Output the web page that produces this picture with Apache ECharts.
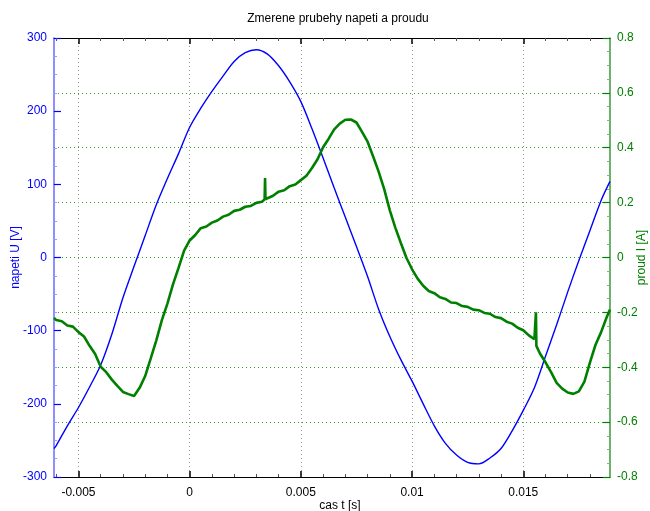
<!DOCTYPE html>
<html>
<head>
<meta charset="utf-8">
<script src="https://cdn.jsdelivr.net/npm/echarts@6/dist/echarts.min.js"></script>
<style>
  html, body { margin: 0; padding: 0; background: #ffffff; }
  #chart { width: 650px; height: 511px; }
</style>
</head>
<body>
<div id="chart"></div>
<script>
// ---- data ----
const chartTitle = 'Zmerene prubehy napeti a proudu';
const xTickValues = [-0.005, 0, 0.005, 0.01, 0.015];
const xMinorTickValues = [-0.006, -0.004, -0.003, -0.002, -0.001, 0.001, 0.002, 0.003, 0.004,
  0.006, 0.007, 0.008, 0.009, 0.011, 0.012, 0.013, 0.014, 0.016, 0.017, 0.018];

// voltage U [V] versus time t [s]
const voltageTime = [
  -0.0061, -0.0060, -0.0055, -0.0050, -0.0045, -0.0040, -0.0035, -0.0030, -0.0025, -0.0020,
  -0.0015, -0.0010, -0.0005, 0.0000, 0.0005, 0.0010, 0.0015, 0.0020, 0.0025, 0.0030,
  0.0035, 0.0040, 0.0045, 0.0050, 0.0055, 0.0060, 0.0065, 0.0070, 0.0075, 0.0080,
  0.0085, 0.0090, 0.0095, 0.0100, 0.0105, 0.0110, 0.0115, 0.0120, 0.0125, 0.0130,
  0.0135, 0.0140, 0.0145, 0.0150, 0.0155, 0.0160, 0.0165, 0.0170, 0.0175, 0.0180,
  0.0185, 0.0189
];
const voltageValues = [
  -261, -257, -230, -205, -177, -147, -105, -55, -12, 30,
  72, 108, 142, 178, 204, 227, 248, 268, 280, 284,
  278, 262, 240, 213, 176, 136, 95, 55, 15, -26,
  -71, -108, -140, -169, -200, -230, -254, -270, -280, -282,
  -274, -261, -237, -209, -178, -135, -92, -47, -4, 37,
  78, 104
];

// current I [A] versus time t [s]
const currentTime = [
  -0.0061, -0.0060, -0.00575, -0.0055, -0.00525, -0.0050, -0.00475, -0.0045, -0.00425, -0.0040,
  -0.00375, -0.0035, -0.00325, -0.0030, -0.00275, -0.0025, -0.00225, -0.0020, -0.00175, -0.0015,
  -0.00125, -0.0010, -0.00075, -0.0005, -0.00025, 0.0000, 0.00025, 0.0005, 0.00075, 0.0010,
  0.00125, 0.0015, 0.00175, 0.0020, 0.00225, 0.0025, 0.00275, 0.0030, 0.00325, 0.00337,
  0.00339, 0.00341, 0.0035, 0.00375, 0.0040, 0.00425, 0.0045, 0.00475, 0.0050, 0.00525,
  0.0055, 0.00575, 0.0060, 0.00625, 0.0065, 0.00675, 0.0070, 0.00725, 0.0075, 0.00775,
  0.0080, 0.00825, 0.0085, 0.00875, 0.0090, 0.00925, 0.0095, 0.00975, 0.0100, 0.01025,
  0.0105, 0.01075, 0.0110, 0.01125, 0.0115, 0.01175, 0.0120, 0.01225, 0.0125, 0.01275,
  0.0130, 0.01325, 0.0135, 0.01375, 0.0140, 0.01425, 0.0145, 0.01475, 0.0150, 0.01525,
  0.0155, 0.01555, 0.01557, 0.01559, 0.01575, 0.0160, 0.01625, 0.0165, 0.01675, 0.0170,
  0.01725, 0.0175, 0.01775, 0.0180, 0.01825, 0.0185, 0.01875, 0.0189
];
const currentValues = [
  -0.220, -0.228, -0.232, -0.248, -0.252, -0.272, -0.288, -0.322, -0.352, -0.398,
  -0.418, -0.445, -0.468, -0.490, -0.498, -0.505, -0.475, -0.432, -0.368, -0.302,
  -0.228, -0.168, -0.098, -0.038, 0.025, 0.062, 0.082, 0.107, 0.113, 0.127,
  0.135, 0.149, 0.156, 0.170, 0.174, 0.185, 0.188, 0.199, 0.203, 0.212,
  0.290, 0.212, 0.216, 0.225, 0.240, 0.245, 0.260, 0.266, 0.282, 0.298,
  0.326, 0.358, 0.402, 0.433, 0.467, 0.488, 0.502, 0.503, 0.492, 0.458,
  0.422, 0.368, 0.312, 0.248, 0.172, 0.108, 0.052, -0.002, -0.043, -0.077,
  -0.103, -0.122, -0.130, -0.145, -0.151, -0.164, -0.166, -0.177, -0.180, -0.190,
  -0.192, -0.202, -0.205, -0.217, -0.221, -0.234, -0.241, -0.256, -0.265, -0.284,
  -0.298, -0.305, -0.200, -0.322, -0.350, -0.382, -0.418, -0.457, -0.478, -0.492,
  -0.497, -0.488, -0.452, -0.382, -0.318, -0.272, -0.218, -0.190
];

// ---- chart ----
const FONT = 'Liberation Sans, Arial, Helvetica, sans-serif';
const BLUE = '#0000ff';
const GREEN = '#008000';

const voltageData = voltageTime.map((t, i) => [t, voltageValues[i]]);
const currentData = currentTime.map((t, i) => [t, currentValues[i]]);

const X_MIN = -0.0061, X_MAX = 0.0189;

function xAxisBase(position) {
  return {
    type: 'value', position: position, min: X_MIN, max: X_MAX,
    axisLine: { show: false, onZero: false },
    axisTick: { show: false },
    axisLabel: { show: false },
    splitLine: { show: false }
  };
}

const chart = echarts.init(document.getElementById('chart'), null, { renderer: 'canvas' });
chart.setOption({
  animation: false,
  backgroundColor: '#ffffff',
  textStyle: { fontFamily: FONT },
  title: {
    text: chartTitle,
    left: 333, top: 8, textAlign: 'center',
    textStyle: { fontSize: 12, fontWeight: 'normal', color: '#000', fontFamily: FONT }
  },
  grid: { left: 54, right: 40, top: 38, bottom: 34, outerBoundsMode: 'none', containLabel: false },
  xAxis: [
    Object.assign(xAxisBase('bottom'), {
      axisLine: { show: true, onZero: false, lineStyle: { color: '#000', width: 1 } },
      axisTick: { show: true, inside: true, length: 6, customValues: xTickValues,
        lineStyle: { color: '#000', width: 1.5 } },
      axisLabel: { show: true, customValues: xTickValues, margin: 10, color: '#000',
        fontSize: 12, fontFamily: FONT },
      splitLine: { show: true, lineStyle: { color: '#999', width: 1, type: [1, 3] } },
      name: 'cas t [s]', nameLocation: 'middle', nameGap: 23, nameMoveOverlap: false,
      nameTextStyle: { fontSize: 12, color: '#000', fontFamily: FONT, padding: [0, 0, 0, 16] }
    }),
    Object.assign(xAxisBase('bottom'), {
      axisTick: { show: true, inside: true, length: 3, customValues: xMinorTickValues,
        lineStyle: { color: '#555', width: 1 } }
    }),
    Object.assign(xAxisBase('top'), {
      axisLine: { show: true, onZero: false, lineStyle: { color: '#000', width: 1 } },
      axisTick: { show: true, inside: true, length: 6, customValues: xTickValues,
        lineStyle: { color: '#000', width: 1.5 } }
    }),
    Object.assign(xAxisBase('top'), {
      axisTick: { show: true, inside: true, length: 3, customValues: xMinorTickValues,
        lineStyle: { color: '#555', width: 1 } }
    })
  ],
  yAxis: [
    {
      type: 'value', position: 'left', min: -300, max: 300, interval: 100,
      axisLine: { show: true, onZero: false, lineStyle: { color: '#6a6aff', width: 1.5 } },
      axisTick: { show: true, inside: true, length: 7, lineStyle: { color: BLUE, width: 1.2 } },
      minorTick: { show: true, splitNumber: 4, length: 3, lineStyle: { color: '#9a9aff', width: 1 } },
      axisLabel: { color: BLUE, fontSize: 12, margin: 7, fontFamily: FONT },
      splitLine: { show: false },
      name: 'napeti U [V]', nameLocation: 'middle', nameGap: 32, nameRotate: 90,
      nameMoveOverlap: false,
      nameTextStyle: { color: BLUE, fontSize: 12, fontFamily: FONT }
    },
    {
      type: 'value', position: 'right', min: -0.8, max: 0.8, interval: 0.2,
      axisLine: { show: true, onZero: false, lineStyle: { color: '#3a9a3a', width: 1.5 } },
      axisTick: { show: true, inside: true, length: 7, lineStyle: { color: GREEN, width: 1.2 } },
      minorTick: { show: true, splitNumber: 4, length: 3, lineStyle: { color: '#7ab87a', width: 1 } },
      axisLabel: { color: GREEN, fontSize: 12, margin: 7, fontFamily: FONT },
      splitLine: { show: true, lineStyle: { color: '#2a9a2a', width: 1, type: [1, 3] } },
      name: 'proud I [A]', nameLocation: 'middle', nameGap: 26, nameRotate: 90,
      nameMoveOverlap: false,
      nameTextStyle: { color: GREEN, fontSize: 12, fontFamily: FONT }
    }
  ],
  series: [
    {
      name: 'napeti', type: 'line', xAxisIndex: 0, yAxisIndex: 0,
      data: voltageData, showSymbol: false, smooth: 0.3,
      lineStyle: { color: BLUE, width: 1.4 }, z: 2
    },
    {
      name: 'proud', type: 'line', xAxisIndex: 0, yAxisIndex: 1,
      data: currentData, showSymbol: false, smooth: false,
      lineStyle: { color: GREEN, width: 2.6 }, z: 3
    }
  ]
});
</script>
</body>
</html>
